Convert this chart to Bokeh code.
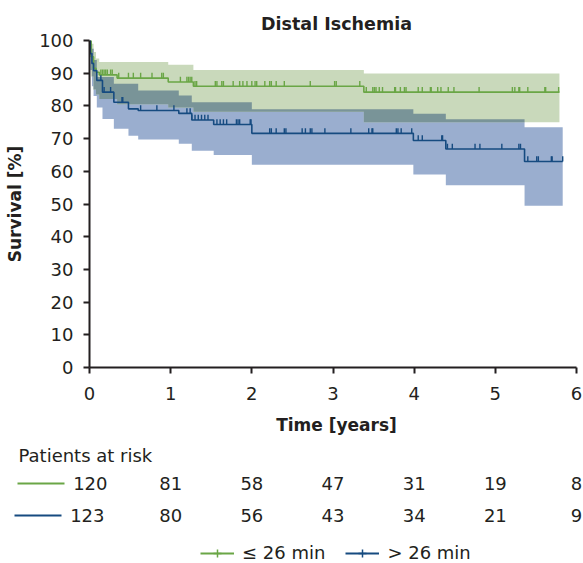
import numpy as np
from bokeh.plotting import figure
from bokeh.layouts import column
from bokeh.models import (Range1d, Legend, LegendItem, FixedTicker, LinearAxis)
from bokeh.core.properties import value
from bokeh.embed import file_html
from bokeh.resources import INLINE

# ---------------- data ----------------
# group <= 26 min (green): Kaplan-Meier steps
green_t = [0, 0.02, 0.05, 0.08, 0.12, 0.34, 0.97, 1.28, 3.38]
green_s = [100, 95.0, 91.5, 90.3, 89.5, 88.5, 87.3, 86.0, 84.2]
green_upper = [100, 99.0, 96.5, 94.5, 93.4, 93.4, 92.6, 91.0, 89.9]
green_lower = [100, 89.0, 85.0, 83.5, 82.1, 80.5, 79.5, 78.2, 75.0]
green_end = 5.79
green_censor = [0.14, 0.16, 0.18, 0.20, 0.22, 0.26, 0.28, 0.36, 0.48, 0.54, 0.63, 0.77,
                0.89, 0.91, 1.12, 1.20, 1.22, 1.24, 1.26, 1.30, 1.32, 1.55, 1.57, 1.63,
                1.65, 1.77, 1.85, 1.89, 1.94, 2.00, 2.04, 2.06, 2.16, 2.22, 2.24, 2.30,
                2.40, 2.72, 3.02, 3.04, 3.33, 3.41, 3.49, 3.51, 3.53, 3.57, 3.61, 3.76,
                3.77, 3.83, 3.88, 3.90, 4.05, 4.10, 4.20, 4.21, 4.29, 4.33, 4.42, 4.49,
                4.80, 5.21, 5.24, 5.29, 5.30, 5.40, 5.61, 5.62, 5.78]

# group > 26 min (blue)
blue_t = [0, 0.01, 0.03, 0.05, 0.09, 0.16, 0.30, 0.48, 0.60, 1.10, 1.26, 1.53, 2.00, 3.99, 4.39, 5.36]
blue_s = [100, 96.0, 93.0, 90.8, 87.8, 84.2, 81.1, 79.1, 78.6, 77.7, 75.7, 74.3, 71.6, 69.4, 66.8, 63.0]
blue_upper = [100, 99.5, 97.5, 94.0, 88.8, 88.8, 86.8, 86.8, 84.7, 83.2, 81.1, 81.1, 79.0, 77.6, 75.9, 73.5]
blue_lower = [100, 91.0, 86.0, 83.0, 79.5, 76.0, 73.0, 70.9, 69.7, 68.4, 66.3, 65.0, 62.0, 59.0, 55.7, 49.5]
blue_end = 5.83
blue_censor = [0.14, 0.18, 0.26, 0.40, 0.41, 0.63, 0.83, 1.04, 1.20, 1.24, 1.26, 1.30, 1.34,
               1.38, 1.42, 1.46, 1.57, 1.61, 1.65, 1.69, 1.81, 1.83, 1.85, 1.98, 1.99, 2.22,
               2.24, 2.30, 2.40, 2.42, 2.62, 2.66, 2.72, 2.74, 2.90, 3.22, 3.44, 3.48, 3.49,
               3.78, 3.80, 3.84, 3.97, 4.05, 4.10, 4.34, 4.35, 4.41, 4.47, 4.75, 4.81, 5.08,
               5.29, 5.31, 5.40, 5.51, 5.53, 5.69, 5.70, 5.83]

risk_times = [0, 1, 2, 3, 4, 5, 6]
green_risk = [120, 81, 58, 47, 31, 19, 8]
blue_risk = [123, 80, 56, 43, 34, 21, 9]

green_label = "≤ 26 min"
blue_label = "> 26 min"

# ---------------- styles ----------------
GREEN = "#6aa646"
BLUE = "#164b80"
GREEN_FILL = "#c9d9bb"
BLUE_FILL = "#9aaecf"
INK = "#231f20"
FONT = "DejaVu Sans"


def hex2rgb(h):
    return np.array([int(h[i:i + 2], 16) for i in (1, 3, 5)], dtype=float)


ov = hex2rgb(GREEN_FILL) * hex2rgb(BLUE_FILL) / 255.0
OVERLAP_FILL = "#%02x%02x%02x" % tuple(int(round(c)) for c in ov)


def step_at(times, vals, q):
    idx = np.searchsorted(np.asarray(times), np.asarray(q), side="right") - 1
    return np.asarray(vals, dtype=float)[idx]


def extend(times, vals, end):
    return list(times) + [end], list(vals) + [vals[-1]]


W = 583
H_MAIN, H_TAB = 440, 123
BL, BT, BB = 89, 40, 73
X6_PX = 576                       # pixel column of t = 6
scale = (X6_PX - BL) / 6.0
x_end = (W - BL) / scale          # frame runs to the right edge of the canvas

xr = Range1d(0, x_end)
p = figure(width=W, height=H_MAIN, x_range=xr, y_range=Range1d(0, 100),
           output_backend="svg", toolbar_location=None,
           min_border_left=BL, min_border_right=0, min_border_top=BT, min_border_bottom=BB,
           title="Distal Ischemia")
p.outline_line_color = None
p.grid.visible = False
p.title.align = "center"
p.title.text_font = FONT
p.title.text_font_style = "bold"
p.title.text_font_size = "17.5px"
p.title.text_color = INK
p.title.standoff = 14

# confidence bands
gt, gu = extend(green_t, green_upper, green_end)
_, gl = extend(green_t, green_lower, green_end)
bt, bu = extend(blue_t, blue_upper, blue_end)
_, bl = extend(blue_t, blue_lower, blue_end)
p.varea_step(x=bt, y1=bl, y2=bu, step_mode="after", fill_color=BLUE_FILL, fill_alpha=1)
p.varea_step(x=gt, y1=gl, y2=gu, step_mode="after", fill_color=GREEN_FILL, fill_alpha=1)

# overlap of the two bands
grid = np.unique(np.concatenate([np.asarray(green_t), np.asarray(blue_t), [min(green_end, blue_end)]]))
grid = grid[grid <= min(green_end, blue_end)]
ou = np.minimum(step_at(green_t, green_upper, grid), step_at(blue_t, blue_upper, grid))
ol = np.maximum(step_at(green_t, green_lower, grid), step_at(blue_t, blue_lower, grid))
ou = np.where(ou < ol, ol, ou)
p.varea_step(x=list(grid), y1=list(ol), y2=list(ou), step_mode="after",
             fill_color=OVERLAP_FILL, fill_alpha=1)

# survival curves
gx, gy = extend(green_t, green_s, green_end)
bx, by = extend(blue_t, blue_s, blue_end)
p.step(x=gx, y=gy, mode="after", line_color=GREEN, line_width=1.6)
p.step(x=bx, y=by, mode="after", line_color=BLUE, line_width=1.6)

# censoring ticks
TICK = 1.6
gcy = step_at(green_t, green_s, green_censor)
bcy = step_at(blue_t, blue_s, blue_censor)
p.segment(x0=green_censor, x1=green_censor, y0=list(gcy), y1=list(gcy + TICK),
          line_color=GREEN, line_width=1.4)
p.segment(x0=blue_censor, x1=blue_censor, y0=list(bcy), y1=list(bcy + TICK),
          line_color=BLUE, line_width=1.4)

# axes
p.xaxis.ticker = FixedTicker(ticks=list(risk_times))
p.xaxis.bounds = (0, 6)
p.yaxis.ticker = FixedTicker(ticks=list(range(0, 101, 10)))
p.xaxis.axis_label = "Time [years]"
p.yaxis.axis_label = "Survival [%]"
for ax in (p.xaxis, p.yaxis):
    ax.axis_line_width = 2
    ax.axis_line_color = INK
    ax.major_tick_line_width = 2
    ax.major_tick_line_color = INK
    ax.major_tick_out = 6
    ax.major_tick_in = 0
    ax.minor_tick_line_color = None
    ax.major_label_text_font = FONT
    ax.major_label_text_font_size = "18px"
    ax.major_label_text_color = INK
    ax.axis_label_text_font = FONT
    ax.axis_label_text_font_style = "bold"
    ax.axis_label_text_font_size = "17px"
    ax.axis_label_text_color = INK
p.xaxis.major_label_standoff = 13
p.yaxis.major_label_standoff = 10
p.xaxis.axis_label_standoff = 12
p.yaxis.axis_label_standoff = 11

# ---------------- patients at risk table (shares the time scale) ----------------
T2_TOP = 26
t2 = figure(width=W, height=H_TAB, x_range=xr, y_range=Range1d(H_TAB, T2_TOP),
            output_backend="svg", toolbar_location=None,
            min_border_left=BL, min_border_right=0, min_border_top=T2_TOP, min_border_bottom=0,
            x_axis_location=None, y_axis_location=None, title="Patients at risk")
t2.outline_line_color = None
t2.grid.visible = False
t2.title.align = "left"
t2.title.offset = 18 - BL
t2.title.standoff = 0
t2.title.vertical_align = "middle"
t2.title.text_font = FONT
t2.title.text_font_style = "normal"
t2.title.text_font_size = "18px"
t2.title.text_color = INK

ROW_G, ROW_B = 43, 75

# counts at t = 0 sit across the frame edge: each row is a left axis whose single
# tick is the coloured key line and whose label is the count
KEY_START, KEY_END, COUNT_RIGHT = 17, 64, 107
x_axis_col = BL
for row_y, count, col in ((ROW_G, green_risk[0], GREEN), (ROW_B, blue_risk[0], BLUE)):
    t_out = x_axis_col - KEY_START
    t_in = KEY_END - x_axis_col
    standoff = x_axis_col - t_out - COUNT_RIGHT
    ax = LinearAxis(ticker=FixedTicker(ticks=[row_y]),
                    major_label_overrides={row_y: str(count)},
                    axis_line_color=None, minor_tick_line_color=None,
                    minor_tick_out=0, minor_tick_in=0,
                    major_tick_line_color=col, major_tick_line_width=2,
                    major_tick_out=int(round(t_out)), major_tick_in=int(round(t_in)),
                    major_label_standoff=int(round(standoff)),
                    major_label_text_font=FONT, major_label_text_font_size="18px",
                    major_label_text_color=INK)
    t2.add_layout(ax, "left")
    # next axis is stacked further left by this axis' extent (tick + standoff + label width)
    x_axis_col = x_axis_col - (t_out + standoff + 34.3)

# remaining counts inside the frame
t2.text(x=risk_times[1:], y=[ROW_G] * (len(risk_times) - 1), text=[str(v) for v in green_risk[1:]],
        text_align="center", text_baseline="middle", text_font=value(FONT),
        text_font_size="18px", text_color=INK)
t2.text(x=risk_times[1:], y=[ROW_B] * (len(risk_times) - 1), text=[str(v) for v in blue_risk[1:]],
        text_align="center", text_baseline="middle", text_font=value(FONT),
        text_font_size="18px", text_color=INK)

# legend (placeholder renderers carrying the styles; no visible data)
nan = [float("nan")]
lg_gl = t2.line(x=nan, y=nan, line_color=GREEN, line_width=2)
lg_gt = t2.scatter(x=nan, y=nan, marker="cross", size=9, line_color=GREEN, line_width=1.5)
lg_bl = t2.line(x=nan, y=nan, line_color=BLUE, line_width=2)
lg_bt = t2.scatter(x=nan, y=nan, marker="cross", size=9, line_color=BLUE, line_width=1.5)
legend = Legend(items=[LegendItem(label=green_label, renderers=[lg_gl, lg_gt], index=0),
                       LegendItem(label=blue_label, renderers=[lg_bl, lg_bt], index=0)],
                orientation="horizontal", location=(200 - BL, 0),
                border_line_color=None, background_fill_alpha=0,
                glyph_width=34, glyph_height=20, label_standoff=8, spacing=20,
                padding=0, margin=0,
                label_text_font=FONT, label_text_font_size="18px", label_text_color=INK)
t2.add_layout(legend)

layout = column(p, t2, spacing=0)
open("out.html", "w").write(file_html(layout, INLINE))
